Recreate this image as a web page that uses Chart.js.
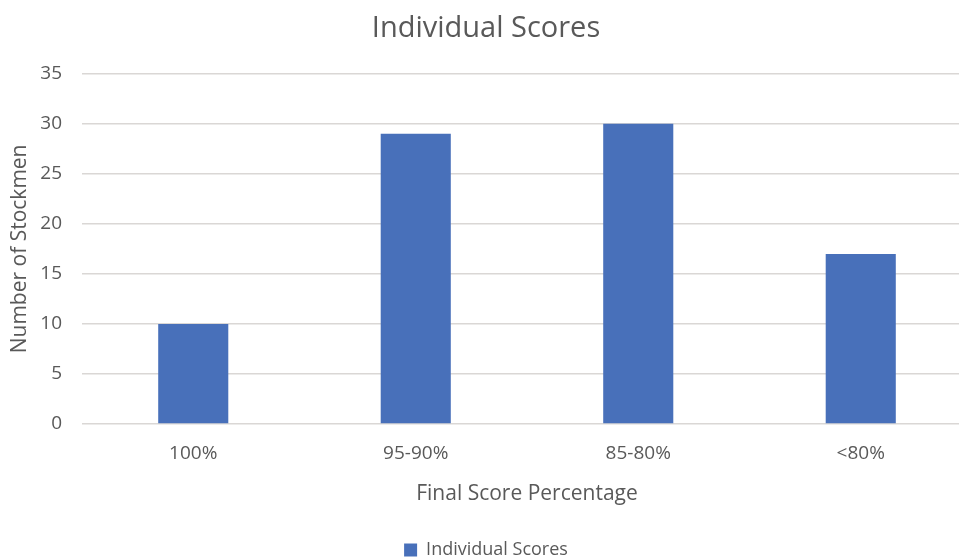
<!DOCTYPE html>
<html>
<head>
<meta charset="utf-8">
<script src="https://cdn.jsdelivr.net/npm/chart.js@4"></script>
<style>
  html, body { margin: 0; padding: 0; background: #fff; overflow: hidden; }
  #wrap { position: absolute; left: 0; top: 0; width: 974px; height: 558px; }
</style>
</head>
<body>
<div id="wrap"><canvas id="scoresChart" width="974" height="558"></canvas></div>
<script>
const categories = ['100%', '95-90%', '85-80%', '<80%'];
const scores = [10, 29, 30, 17];
const yTicks = [0, 5, 10, 15, 20, 25, 30, 35];

const textColor = '#595959';
const fontFamily = '"Open Sans", sans-serif';

const ctx = document.getElementById('scoresChart').getContext('2d');

new Chart(ctx, {
    type: 'bar',
    data: {
        labels: categories,
        datasets: [{
            label: 'Individual Scores',
            data: scores,
            backgroundColor: '#4870BA',
            borderWidth: 0,
            barPercentage: 0.315,
            categoryPercentage: 1
        }]
    },
    options: {
        responsive: false,
        animation: false,
        layout: { padding: { left: 0, right: 2, top: 0, bottom: -11 } },
        plugins: {
            title: {
                display: true,
                text: 'Individual Scores',
                color: textColor,
                font: { family: fontFamily, size: 29, weight: 'normal' },
                padding: { top: 11, bottom: 28 }
            },
            legend: {
                position: 'bottom',
                labels: {
                    color: textColor,
                    font: { family: fontFamily, size: 18 },
                    boxWidth: 13,
                    boxHeight: 13,
                    padding: 6
                }
            },
            tooltip: { enabled: false }
        },
        scales: {
            x: {
                grid: { display: false, drawTicks: false },
                border: { display: false },
                ticks: {
                    color: textColor,
                    font: { family: fontFamily, size: 19 },
                    padding: 18
                },
                title: {
                    display: true,
                    text: 'Final Score Percentage',
                    color: textColor,
                    font: { family: fontFamily, size: 21 },
                    padding: { top: 8, bottom: 28 }
                },
                afterFit: scale => { scale.height = 111; }
            },
            y: {
                min: 0,
                max: 35,
                afterBuildTicks: scale => { scale.ticks = yTicks.map(v => ({ value: v })); },
                grid: { color: '#DAD7D5', lineWidth: 1.5, drawTicks: false },
                border: { display: false },
                ticks: {
                    color: textColor,
                    font: { family: fontFamily, size: 19 },
                    padding: 20
                },
                title: {
                    display: true,
                    text: 'Number of Stockmen',
                    color: textColor,
                    font: { family: fontFamily, size: 21 },
                    padding: { top: 7, bottom: 0 }
                },
                afterFit: scale => { scale.width = 82; }
            }
        }
    }
});
</script>
</body>
</html>
